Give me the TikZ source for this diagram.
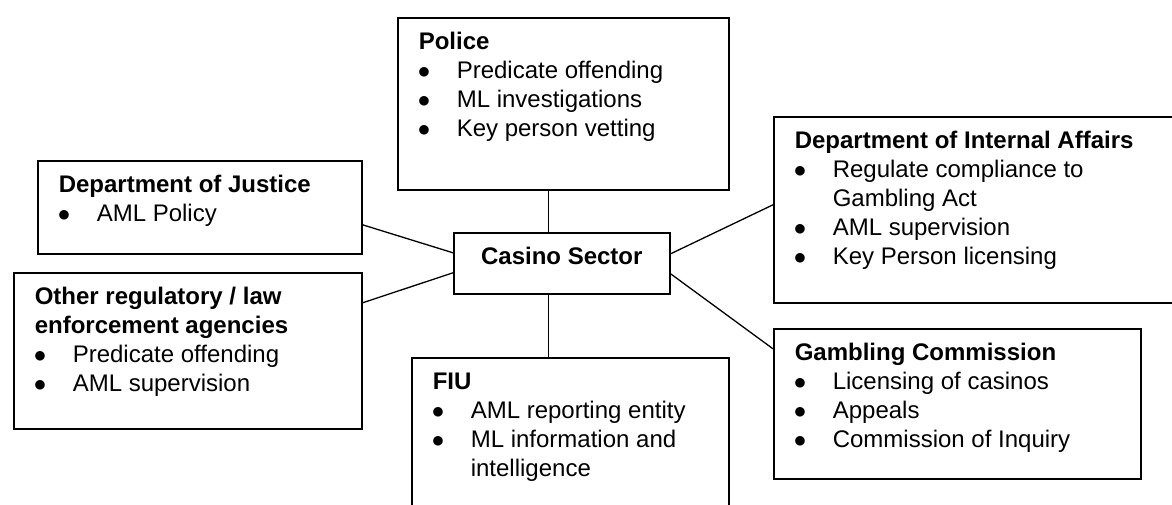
\documentclass[tikz,border=0pt]{standalone}
\usepackage{fontspec}
\setmainfont{Liberation Sans}
\usetikzlibrary{positioning}

% one bullet line inside an agency box
\newcommand{\bul}[1]{\par\hangindent=38pt\hangafter=1\makebox[38pt][l]{\hspace{-1pt}$\bullet$}#1}
% box text: width, height, title, bullet lines
\newcommand{\agency}[4]{\parbox[t][#2pt][t]{#1pt}{\fontsize{24}{28.8}\selectfont\raggedright\leftskip=21pt
    \rule{0pt}{32pt}\textbf{#3}#4}}

\begin{document}
\begin{tikzpicture}[x=1pt,y=-1pt,
        box/.style={draw,line width=1.6pt,inner sep=0pt,anchor=north west},
        link/.style={line width=1.3pt}]
        \useasboundingbox (0,0) rectangle (1172,504);

        \node [box] (casino) at (453,232) {\parbox[t][61pt][t]{216pt}{\fontsize{24}{28.8}\selectfont\centering
                \rule{0pt}{32pt}\textbf{Casino Sector}}};

        \node [box] (police) at (397,17) {\agency{331}{172}{Police}{%
                \bul{Predicate offending}\bul{ML investigations}\bul{Key person vetting}}};
        \node [box] (doj) at (37,160) {\agency{324}{93}{Department of Justice}{%
                \bul{AML Policy}}};
        \node [box] (other) at (13,272) {\agency{348}{156}{Other regulatory / law\newline enforcement agencies}{%
                \bul{Predicate offending}\bul{AML supervision}}};
        \node [box] (fiu) at (411,357) {\agency{317}{160}{FIU}{%
                \bul{AML reporting entity}\bul{ML information and\newline intelligence}}};
        \node [box] (dia) at (773,116) {\agency{410}{186}{Department of Internal Affairs}{%
                \bul{Regulate compliance to\newline Gambling Act}\bul{AML supervision}\bul{Key Person licensing}}};
        \node [box] (gc) at (773,328) {\agency{367}{150}{Gambling Commission}{%
                \bul{Licensing of casinos}\bul{Appeals}\bul{Commission of Inquiry}}};

        \draw [link] ([xshift=-13pt]casino.north) -- ([xshift=-13pt]casino.north |- police.south);
        \draw [link] ([xshift=-13pt]casino.south) -- ([xshift=-13pt]casino.south |- fiu.north);
        \draw [link] ([yshift=-17.5pt]doj.east) -- ([yshift=10.5pt]casino.west);
        \draw [link] ([yshift=48pt]other.east) -- ([yshift=-9.5pt]casino.west);
        \draw [link] ([yshift=9.5pt]casino.east) -- ([yshift=5pt]dia.west);
        \draw [link] ([yshift=-10.5pt]casino.east) -- ([yshift=55pt]gc.west);
\end{tikzpicture}
\end{document}
